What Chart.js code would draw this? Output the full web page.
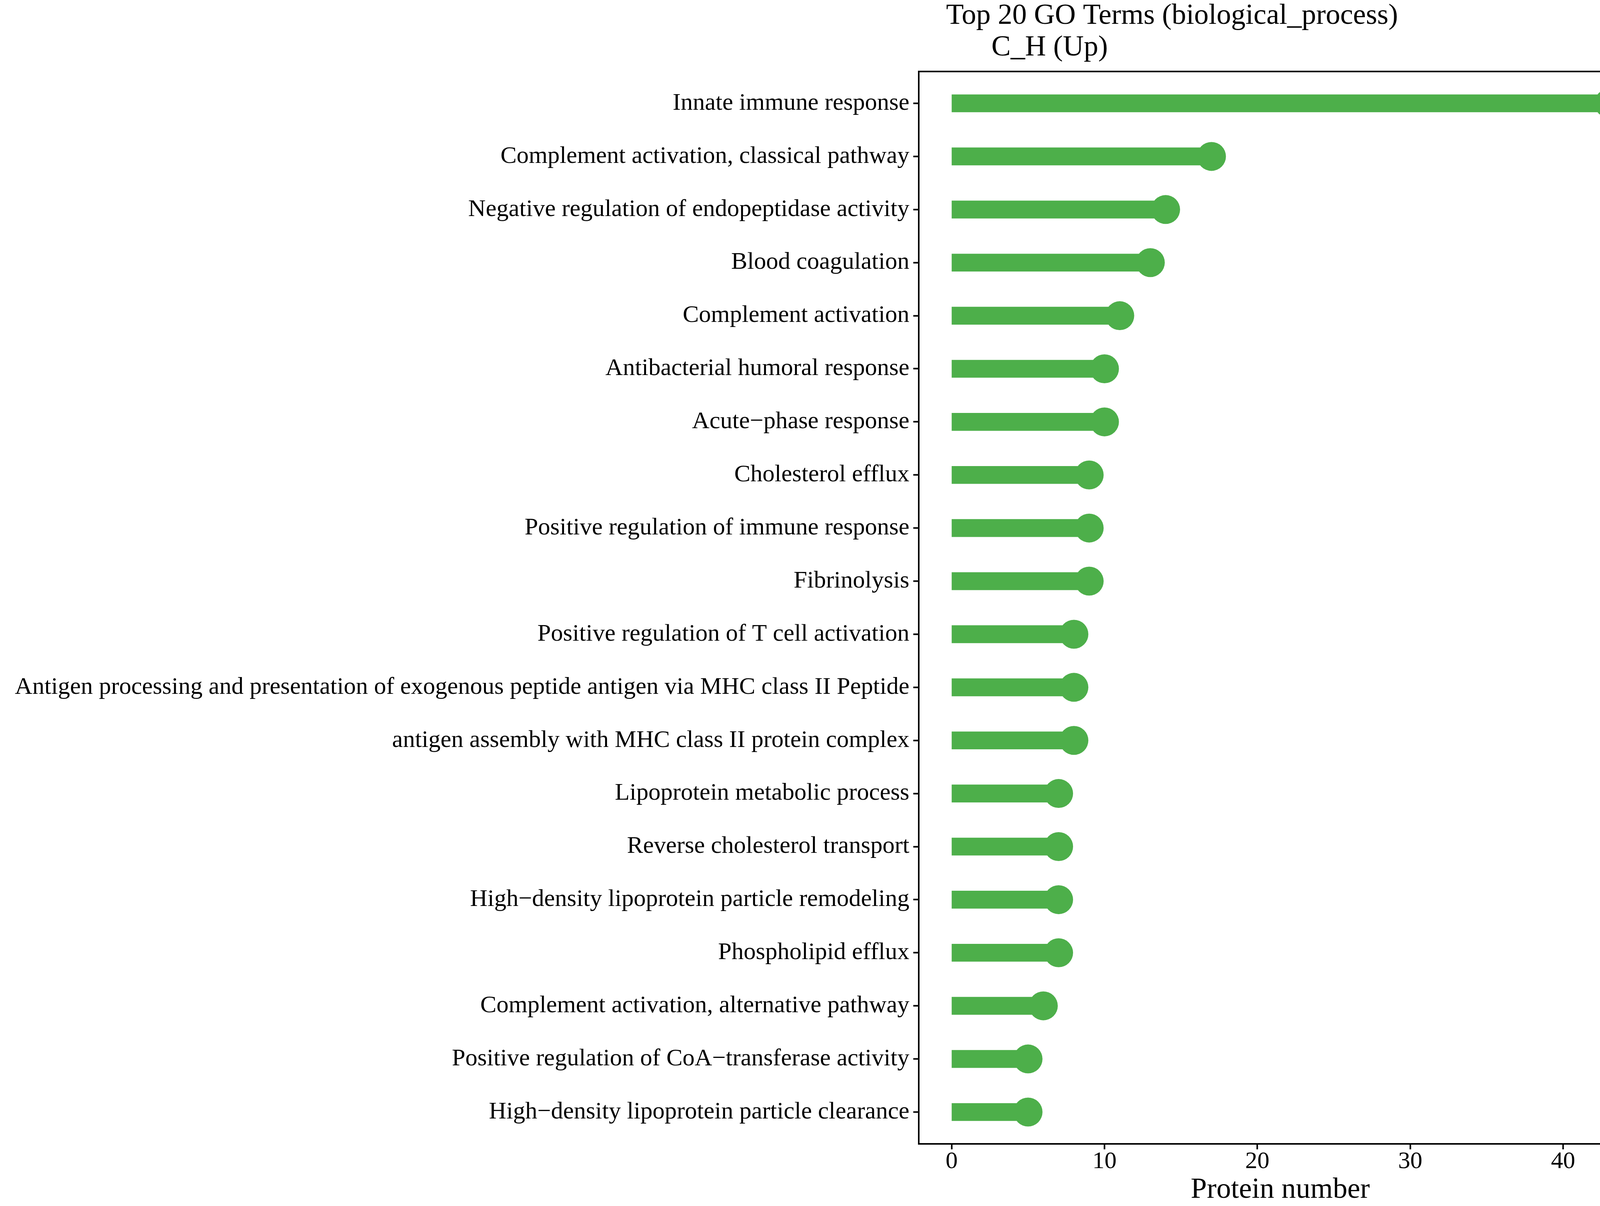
<!DOCTYPE html>
<html>
<head>
<meta charset="utf-8">
<script src="https://cdn.jsdelivr.net/npm/chart.js@4/dist/chart.umd.min.js"></script>
<style>
  html, body { margin: 0; padding: 0; background: #fff; }
  #wrap { width: 4212px; height: 3087px; }
</style>
</head>
<body>
<div id="wrap"><canvas id="chart" width="4212" height="3087"></canvas></div>
<script>
// GO terms, top to bottom
const terms = [
  "Innate immune response",
  "Complement activation, classical pathway",
  "Negative regulation of endopeptidase activity",
  "Blood coagulation",
  "Complement activation",
  "Antibacterial humoral response",
  "Acute\u2212phase response",
  "Cholesterol efflux",
  "Positive regulation of immune response",
  "Fibrinolysis",
  "Positive regulation of T cell activation",
  "Antigen processing and presentation of exogenous peptide antigen via MHC class II Peptide",
  "antigen assembly with MHC class II protein complex",
  "Lipoprotein metabolic process",
  "Reverse cholesterol transport",
  "High\u2212density lipoprotein particle remodeling",
  "Phospholipid efflux",
  "Complement activation, alternative pathway",
  "Positive regulation of CoA\u2212transferase activity",
  "High\u2212density lipoprotein particle clearance"
];
const proteinCounts = [43, 17, 14, 13, 11, 10, 10, 9, 9, 9, 8, 8, 8, 7, 7, 7, 7, 6, 5, 5];
const xTicks = [0, 10, 20, 30, 40];

const GREEN = "#4daf4a";
const SERIF = "'Liberation Serif', 'Times New Roman', serif";

const points = proteinCounts.map((v, i) => ({ x: v, y: i }));

// ggplot-like black panel border + two-line title
const panelDecor = {
  id: "panelDecor",
  afterDraw(chart) {
    const { ctx, chartArea } = chart;
    ctx.save();
    ctx.strokeStyle = "#000";
    ctx.lineWidth = 4;
    ctx.strokeRect(chartArea.left, chartArea.top,
      chartArea.right - chartArea.left, chartArea.bottom - chartArea.top);
    ctx.fillStyle = "#000";
    ctx.font = "74px " + SERIF;
    ctx.textAlign = "left";
    ctx.textBaseline = "alphabetic";
    ctx.fillText("Top 20 GO Terms (biological_process)", 2422, 61);
    ctx.fillText("C_H (Up)", 2538, 142);
    ctx.restore();
  }
};

new Chart(document.getElementById("chart"), {
  type: "bar",
  data: {
    datasets: [
      {
        type: "scatter",
        data: points,
        pointRadius: 37,
        pointHoverRadius: 37,
        pointBackgroundColor: GREEN,
        pointBorderWidth: 0,
        order: 0
      },
      {
        type: "bar",
        indexAxis: "y",
        data: points,
        backgroundColor: GREEN,
        barThickness: 45,
        order: 1
      }
    ]
  },
  options: {
    responsive: false,
    animation: false,
    devicePixelRatio: 1,
    layout: { autoPadding: false, padding: { top: 183, right: 9, bottom: 0, left: 0 } },
    plugins: {
      legend: { display: false },
      tooltip: { enabled: false },
      title: { display: false }
    },
    scales: {
      x: {
        type: "linear",
        position: "bottom",
        offset: false,
        min: -2.15,
        max: 45.15,
        afterBuildTicks: (axis) => { axis.ticks = xTicks.map(v => ({ value: v })); },
        afterFit: (axis) => { axis.height = 159; },
        grid: { offset: false, drawOnChartArea: false, drawTicks: true, tickLength: 14, tickColor: "#000", tickWidth: 4 },
        border: { display: true, color: "#000", width: 4 },
        ticks: { color: "#000", font: { family: SERIF, size: 62, lineHeight: 1 }, padding: 1, maxRotation: 0, autoSkip: false },
        title: {
          display: true,
          text: "Protein number",
          color: "#000",
          font: { family: SERIF, size: 74, lineHeight: 1 },
          padding: { top: 0, bottom: 3 }
        }
      },
      y: {
        type: "linear",
        reverse: true,
        offset: false,
        min: -0.6,
        max: 19.6,
        afterBuildTicks: (axis) => { axis.ticks = terms.map((t, i) => ({ value: i })); },
        afterFit: (axis) => { axis.width = 2352; },
        grid: { offset: false, drawOnChartArea: false, drawTicks: true, tickLength: 14, tickColor: "#000", tickWidth: 4 },
        border: { display: true, color: "#000", width: 4 },
        ticks: {
          color: "#000",
          font: { family: SERIF, size: 62 },
          padding: 10,
          autoSkip: false,
          callback: (value) => terms[value]
        }
      }
    }
  },
  plugins: [panelDecor]
});
</script>
</body>
</html>
